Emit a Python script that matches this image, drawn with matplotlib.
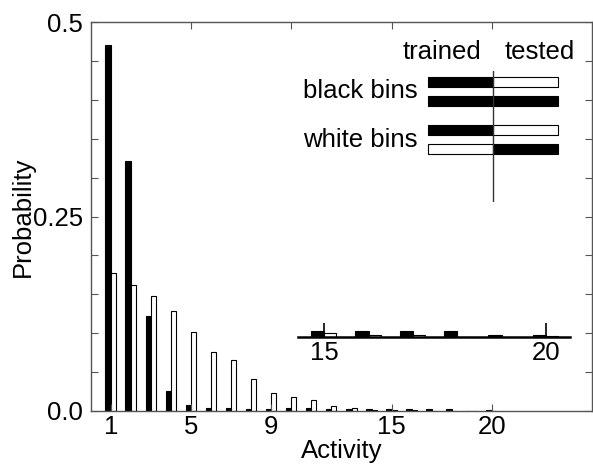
import numpy as np
import matplotlib
matplotlib.use("Agg")
import matplotlib.pyplot as plt

plt.rcParams['font.family'] = ['Liberation Sans', 'DejaVu Sans']

# ── data ──
activity = np.arange(1, 21)
p_black = [0.470, 0.321, 0.122, 0.026, 0.008, 0.004, 0.004, 0.003, 0.003, 0.004,
           0.004, 0.003, 0.003, 0.002, 0.002, 0.002, 0.002, 0.002, 0.0006, 0.0007]
p_white = [0.177, 0.1615, 0.148, 0.129, 0.102, 0.076, 0.0656, 0.0407, 0.0228, 0.018,
           0.0139, 0.0067, 0.0036, 0.0015, 0.0012, 0.0008, 0.0006, 0.0, 0.0, 0.0004]

xtick_vals = [1, 5, 9, 15, 20]
top_ticks = [5, 10, 15, 20]
ytick_vals = [0.0, 0.25, 0.5]
ytick_labels = ["0.0", "0.25", "0.5"]

inset_ticks = [15, 20]

# schematic legend: rows of (trained, tested) colours
legend_rows = [0, 1, 2.5, 3.5]
legend_trained = ["black", "black", "black", "white"]
legend_tested = ["white", "black", "white", "black"]
legend_groups = ["black bins", "white bins"]
legend_group_y = [0.5, 3.0]

FS = 18.5
W, H = 593, 466
SPINE = "#555555"


def fx(px):
    return px / W


def fy(py):
    return 1 - py / H


fig = plt.figure(figsize=(W / 100, H / 100), dpi=100)

# ── main axes ──
ax = fig.add_axes([fx(91), fy(411), fx(592 - 91), (411 - 22) / H])
ax.bar(activity, p_black, width=-0.28, align='edge', color='black',
       edgecolor='black', linewidth=0.8)
ax.bar(activity, p_white, width=0.25, align='edge', color='white',
       edgecolor='black', linewidth=0.8)
ax.set_xlim(0, 25)
ax.set_ylim(0, 0.5)
ax.set_xticks(xtick_vals)
ax.set_xticklabels([str(v) for v in xtick_vals])
ax.set_yticks(ytick_vals)
ax.set_yticklabels(ytick_labels)
ax.set_yticks(np.arange(0, 0.501, 0.05), minor=True)
ax.tick_params(axis='both', which='both', direction='in', length=5, width=0.8,
               color=SPINE, labelsize=FS, right=True)
ax.tick_params(axis='x', pad=3)
ax.tick_params(axis='y', pad=5.5)
for s in ax.spines.values():
    s.set_color(SPINE)
    s.set_linewidth(1.0)
ax.set_xlabel("Activity", fontsize=FS, labelpad=0)
ax.set_ylabel("Probability", fontsize=FS, labelpad=-1)

top = ax.secondary_xaxis('top')
top.set_xticks(top_ticks)
top.set_xticklabels([])
top.tick_params(direction='in', length=5, width=0.8, color=SPINE)
top.spines['top'].set_visible(False)

# ── magnified tail inset ──
iax = fig.add_axes([fx(298), fy(336.7), fx(570 - 298), 30 / H])
iax.bar(activity, p_black, width=-0.3, align='edge', color='black',
        edgecolor='black', linewidth=0.8)
iax.bar(activity, p_white, width=0.27, align='edge', color='white',
        edgecolor='black', linewidth=0.8)
iax.set_xlim(14.41, 20.54)
iax.set_ylim(0, 0.011)
iax.set_xticks(inset_ticks)
iax.set_xticklabels([str(v) for v in inset_ticks])
iax.set_yticks([])
iax.tick_params(axis='x', which='major', direction='in', length=10, width=1.2,
                color='black', labelsize=FS, pad=3, bottom=True, top=False)
for k in ['top', 'left', 'right']:
    iax.spines[k].set_visible(False)
iax.spines['bottom'].set_linewidth(1.8)
iax.patch.set_alpha(0)

# ── schematic legend ──
lax = fig.add_axes([fx(428.3), fy(202), fx(558.3 - 428.3), (202 - 70.7) / H])
lax.barh(legend_rows, [-1] * len(legend_rows), height=0.5, color=legend_trained,
         edgecolor='black', linewidth=0.8, clip_on=False)
lax.barh(legend_rows, [1] * len(legend_rows), height=0.5, color=legend_tested,
         edgecolor='black', linewidth=0.8, clip_on=False)
lax.axvline(0, color='#333333', lw=1.0)
lax.set_xlim(-1, 1)
lax.set_ylim(6.23, -0.57)
lax.axis('off')
lax.text(-0.18, -1.55, "trained", ha='right', va='center', fontsize=FS)
lax.text(0.18, -1.55, "tested", ha='left', va='center', fontsize=FS)
for name, yy in zip(legend_groups, legend_group_y):
    lax.text(-1.17, yy, name, ha='right', va='center', fontsize=FS)

fig.savefig("out.png", dpi=100)
